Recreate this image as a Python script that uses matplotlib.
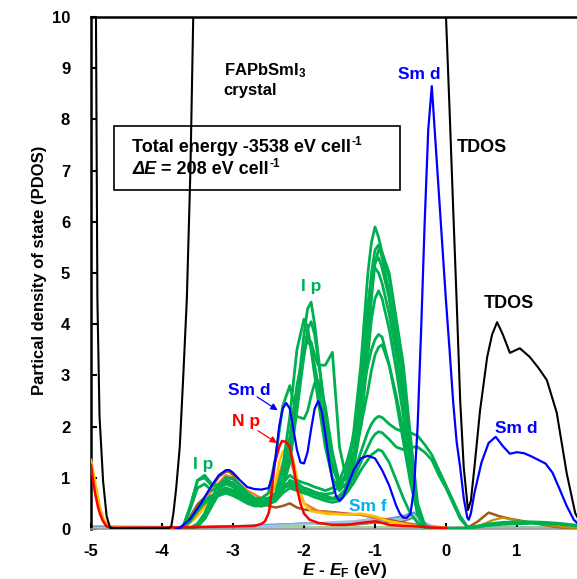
import matplotlib
matplotlib.use("Agg")
import matplotlib.pyplot as plt
from matplotlib.patches import Rectangle

plt.rcParams['font.family'] = ['Liberation Sans', 'DejaVu Sans']
plt.rcParams['font.weight'] = 'bold'
plt.rcParams['axes.unicode_minus'] = False
plt.rcParams['mathtext.fontset'] = 'custom'
plt.rcParams['mathtext.rm'] = 'Liberation Sans:bold'
plt.rcParams['mathtext.bf'] = 'Liberation Sans:bold'
plt.rcParams['mathtext.it'] = 'Liberation Sans:italic:bold'

# ---- total DOS ----
tdos_e = [-5.0, -4.96, -4.93, -4.91, -4.88, -4.83, -4.78, -4.73, -4.6, -4.4, -4.2, -4.0,
          -3.9, -3.87, -3.84, -3.8, -3.75, -3.7, -3.65, -3.6, -3.56, -3.5, -3.3, -2.5,
          -1.5, -0.5, -0.1, -0.05, 0.0, 0.05, 0.1, 0.15, 0.2, 0.25, 0.31, 0.35, 0.4,
          0.48, 0.58, 0.65, 0.72, 0.8, 0.9, 1.04, 1.18, 1.3, 1.42, 1.56, 1.7, 1.82,
          1.9, 2.0]
tdos = [20, 14, 10, 4.5, 2.2, 0.94, 0.25, 0.02, 0.01, 0.01, 0.01, 0.01,
        0.02, 0.05, 0.3, 0.8, 1.6, 3.0, 4.5, 7.0, 10, 14, 25, 35,
        35, 30, 14, 12, 10, 8.2, 6.3, 4.45, 2.5, 1.2, 0.37, 0.55, 1.2,
        2.32, 3.36, 3.8, 4.04, 3.8, 3.44, 3.53, 3.36, 3.15, 2.91, 2.27, 1.09, 0.31,
        0.1, 0.03]

# ---- Sm d ----
smd_e = [-3.8, -3.75, -3.6, -3.45, -3.3, -3.2, -3.1, -3.05, -3.0, -2.9, -2.8, -2.7,
         -2.6, -2.5, -2.45, -2.4, -2.35, -2.3, -2.25, -2.2, -2.15, -2.1, -2.05, -2.0,
         -1.95, -1.9, -1.85, -1.8, -1.75, -1.7, -1.65, -1.6, -1.55, -1.5, -1.45, -1.4,
         -1.3, -1.2, -1.1, -1.0, -0.9, -0.8, -0.7, -0.65, -0.6, -0.55, -0.5, -0.45,
         -0.4, -0.35, -0.3, -0.25, -0.2, -0.15, -0.1, -0.05, 0.0, 0.05, 0.1, 0.15,
         0.2, 0.25, 0.3, 0.32, 0.35, 0.4, 0.5, 0.6, 0.7, 0.8, 0.9, 1.0, 1.1, 1.2,
         1.3, 1.4, 1.5, 1.6, 1.7, 1.8, 1.9, 2.0]
smd = [0.0, 0.02, 0.2, 0.5, 0.85, 1.05, 1.15, 1.15, 1.1, 0.95, 0.82, 0.78,
       0.77, 0.8, 1.0, 1.4, 2.0, 2.35, 2.46, 2.35, 1.95, 1.55, 1.3, 1.28,
       1.5, 1.95, 2.35, 2.5, 2.3, 1.85, 1.35, 0.95, 0.65, 0.55, 0.62, 0.8,
       1.15, 1.38, 1.43, 1.38, 1.15, 0.85, 0.45, 0.3, 0.22, 0.22, 0.3, 0.8,
       2.0, 3.9, 6.0, 7.8, 8.65, 7.6, 6.55, 5.5, 4.45, 3.5, 2.5, 1.7,
       1.2, 0.6, 0.22, 0.18, 0.3, 0.7, 1.3, 1.68, 1.8, 1.62, 1.47, 1.5, 1.48, 1.42,
       1.35, 1.28, 1.1, 0.78, 0.45, 0.18, 0.05, 0.02]

# ---- N p ----
np_e = [-5.0, -4.97, -4.94, -4.9, -4.87, -4.83, -4.78, -4.7, -3.8, -3.0, -2.7, -2.6,
        -2.55, -2.5, -2.48, -2.45, -2.41, -2.35, -2.31, -2.25, -2.2, -2.15, -2.1,
        -2.05, -2.0, -1.92, -1.8, -1.6, -1.4, -1.2, -1.0, -0.9, -0.8, -0.6, -0.4,
        -0.2, 0.0]
np_dos = [1.25, 0.95, 0.68, 0.42, 0.28, 0.15, 0.05, 0.02, 0.03, 0.05, 0.06, 0.1,
          0.15, 0.3, 0.43, 0.8, 1.29, 1.6, 1.72, 1.7, 1.6, 1.25, 0.8,
          0.5, 0.3, 0.18, 0.12, 0.08, 0.08, 0.12, 0.15, 0.12, 0.08, 0.06, 0.05,
          0.03, 0.02]

# ---- other minor PDOS ----
yel_e = [-5.0, -4.96, -4.92, -4.88, -4.84, -4.78, -4.7, -3.7, -3.5, -3.3, -3.1, -2.9,
         -2.7, -2.6, -2.5, -2.4, -2.35, -2.3, -2.25, -2.2, -2.15, -2.1, -2.05, -2.0,
         -1.9, -1.7, -1.4, -1.2, -1.0, -0.8, -0.6, -0.4, 0.0]
yel = [1.35, 1.05, 0.75, 0.45, 0.25, 0.08, 0.02, 0.0, 0.25, 0.6, 0.9, 0.8,
       0.6, 0.45, 0.5, 0.9, 1.3, 1.5, 1.58, 1.52, 1.35, 1.0, 0.7, 0.5,
       0.35, 0.3, 0.28, 0.3, 0.25, 0.15, 0.1, 0.05, 0.02]
org_e = [-5.0, -4.96, -4.92, -4.88, -4.83, -4.75, -3.7, -3.5, -3.3, -3.1, -3.0, -2.8,
         -2.6, -2.4, -2.3, -2.25, -2.2, -2.1, -2.0, -1.8, -1.5, -1.2, -1.0, -0.8,
         -0.5, 0.0]
org = [1.3, 1.0, 0.7, 0.42, 0.2, 0.04, 0.0, 0.3, 0.75, 1.05, 1.0, 0.75,
       0.6, 0.8, 1.3, 1.45, 1.4, 0.9, 0.5, 0.35, 0.3, 0.28, 0.22, 0.15,
       0.08, 0.02]
brn_e = [-3.75, -3.7, -3.6, -3.5, -3.4, -3.3, -3.2, -3.1, -3.05, -3.0, -2.9, -2.8,
         -2.7, -2.6, -2.5, -2.4, -2.3, -2.2, -2.1, -2.0, -1.8, -1.6, -1.4, -1.2,
         -1.0, -0.8, -0.6, -0.4, -0.2, 0.0, 0.3, 0.45, 0.6, 0.75, 0.9, 1.1, 1.3,
         1.5, 1.7, 2.0]
brn = [0.0, 0.02, 0.25, 0.48, 0.62, 0.82, 1.02, 1.12, 1.12, 1.05, 0.85, 0.65,
       0.55, 0.5, 0.45, 0.42, 0.45, 0.5, 0.42, 0.38, 0.35, 0.33, 0.3, 0.28,
       0.22, 0.18, 0.12, 0.08, 0.03, 0.01, 0.02, 0.15, 0.32, 0.25, 0.2, 0.15, 0.1,
       0.05, 0.02, 0.01]
brn2_e = [0.3, 0.5, 0.65, 0.8, 0.95, 1.1, 1.3, 1.5, 1.7, 2.0]
brn2 = [0.01, 0.08, 0.17, 0.22, 0.18, 0.14, 0.1, 0.06, 0.03, 0.01]

smf_e = [-5.0, -3.8, -3.0, -2.5, -2.0, -1.6, -1.3, -1.0, -0.8, -0.6, -0.5, -0.45,
         -0.4, -0.3, -0.2, 0.0, 0.5, 2.0]
smf1 = [0.03, 0.02, 0.05, 0.08, 0.1, 0.12, 0.1, 0.15, 0.2, 0.25, 0.3, 0.32,
        0.25, 0.12, 0.05, 0.02, 0.02, 0.02]
smf2 = [0.02, 0.02, 0.04, 0.06, 0.09, 0.13, 0.15, 0.2, 0.18, 0.2, 0.26, 0.24,
        0.2, 0.1, 0.06, 0.02, 0.01, 0.01]
smf3 = [0.05, 0.04, 0.05, 0.07, 0.11, 0.1, 0.08, 0.12, 0.13, 0.15, 0.2, 0.22,
        0.18, 0.08, 0.04, 0.02, 0.02, 0.01]
base_e = [-5.0, 2.0]
base = [0.06, 0.06]

# ---- I p (many iodine atoms) ----
ip_e = [-3.8, -3.7, -3.6, -3.5, -3.4, -3.3, -3.2, -3.1, -3.0, -2.9, -2.8, -2.7, -2.6,
        -2.5, -2.4, -2.3, -2.2, -2.1, -2.0, -1.95, -1.9, -1.85, -1.8, -1.7, -1.6,
        -1.5, -1.4, -1.3, -1.2, -1.1, -1.05, -1.0, -0.95, -0.9, -0.8, -0.7, -0.6,
        -0.5, -0.4, -0.3, -0.2, -0.1, 0.0, 0.1, 0.2, 0.3, 0.4]
ip1 = [0, 0, 0.02, 0.1, 0.3, 0.6, 0.85, 1.0, 0.98, 0.85, 0.7, 0.6, 0.55, 0.55, 0.65,
       0.9, 1.5, 2.6, 3.8, 4.3, 4.43, 4.0, 3.4, 2.2, 1.3, 0.8,
       1.05, 1.9, 3.2, 5.0, 5.6, 5.9, 5.7, 5.4, 5.0, 4.1, 3.2, 1.8, 0.5, 0.08,
       0, 0, 0, 0, 0, 0, 0]
ip2 = [0, 0.05, 0.45, 0.95, 1.0, 0.85, 0.85, 0.95, 0.9, 0.75, 0.65, 0.6, 0.58, 0.6, 0.7,
       1.2, 2.2, 3.5, 4.1, 3.95, 3.5, 3.0, 2.5, 1.6, 1.0, 0.75,
       0.9, 1.5, 2.6, 4.2, 5.0, 5.45, 5.55, 5.3, 4.6, 3.7, 2.7, 1.4, 0.35, 0.05,
       0, 0, 0, 0, 0, 0, 0]
ip3 = [0, 0, 0, 0.05, 0.2, 0.45, 0.7, 0.8, 0.75, 0.65, 0.55, 0.5, 0.45, 0.5, 0.55,
       0.8, 1.3, 2.3, 3.4, 3.9, 4.05, 3.8, 3.3, 2.3, 1.4, 0.9,
       0.8, 1.3, 2.2, 3.6, 4.5, 5.2, 5.45, 5.4, 4.9, 4.0, 3.0, 1.6, 0.4, 0.05,
       0, 0, 0, 0, 0, 0, 0]
ip4 = [0, 0.05, 0.2, 0.4, 0.55, 0.65, 0.7, 0.75, 0.7, 0.6, 0.55, 0.5, 0.5, 0.5, 0.6,
       0.9, 1.5, 2.5, 3.4, 3.75, 3.65, 3.4, 3.2, 3.2, 3.45, 1.6,
       0.95, 1.3, 2.4, 4.0, 4.8, 5.2, 5.3, 5.1, 4.5, 3.6, 2.6, 1.3, 0.3, 0.03,
       0, 0, 0, 0, 0, 0, 0]
ip5 = [0, 0.05, 0.4, 0.8, 0.88, 0.75, 0.8, 0.88, 0.82, 0.7, 0.6, 0.55, 0.52, 0.55, 0.65,
       1.0, 1.8, 2.8, 3.5, 3.7, 3.55, 3.2, 2.8, 1.9, 1.2, 0.85,
       1.1, 1.8, 3.0, 4.4, 4.9, 5.1, 5.0, 4.8, 4.2, 3.4, 2.4, 1.2, 0.3, 0.03,
       0, 0, 0, 0, 0, 0, 0]
ip6 = [0, 0, 0.02, 0.08, 0.25, 0.5, 0.75, 0.9, 0.88, 0.78, 0.68, 0.6, 0.6, 0.7, 1.4,
       2.4, 2.8, 2.2, 2.15, 2.3, 2.6, 2.85, 2.9, 2.4, 1.5, 0.9,
       0.8, 1.2, 2.0, 3.4, 4.1, 4.5, 4.65, 4.5, 3.9, 3.1, 2.2, 1.1, 0.3, 0.03,
       0, 0, 0, 0, 0, 0, 0]
ip7 = [0, 0, 0, 0.05, 0.2, 0.45, 0.7, 0.8, 0.75, 0.65, 0.55, 0.5, 0.45, 0.5, 0.55,
       0.9, 1.05, 0.95, 0.9, 0.88, 0.85, 0.82, 0.8, 0.75, 0.8, 0.95,
       1.3, 1.8, 2.5, 3.2, 3.5, 3.7, 3.8, 3.75, 3.2, 2.5, 1.7, 0.9, 0.3, 0.05,
       0, 0, 0, 0, 0, 0, 0]
ip8 = [0, 0.03, 0.15, 0.35, 0.5, 0.6, 0.65, 0.7, 0.65, 0.58, 0.5, 0.45, 0.45, 0.48, 0.55,
       0.75, 0.95, 0.9, 0.8, 0.78, 0.75, 0.72, 0.7, 0.68, 0.7, 0.85,
       1.1, 1.5, 2.0, 2.7, 3.1, 3.4, 3.55, 3.6, 3.2, 2.6, 1.9, 1.0, 0.35, 0.05,
       0, 0, 0, 0, 0, 0, 0]
ip9 = [0, 0.05, 0.45, 0.95, 1.05, 0.88, 0.85, 0.95, 0.9, 0.75, 0.65, 0.6, 0.58, 0.6, 0.7,
       0.85, 0.9, 0.85, 0.8, 0.78, 0.75, 0.72, 0.7, 0.65, 0.6, 0.65,
       0.8, 1.1, 1.5, 1.9, 2.05, 2.15, 2.2, 2.18, 2.05, 1.95, 1.9, 1.88, 1.82, 1.65,
       1.45, 1.15, 0.85, 0.55, 0.25, 0.05, 0]
ip10 = [0, 0, 0.02, 0.1, 0.3, 0.6, 0.85, 1.0, 0.98, 0.85, 0.7, 0.6, 0.55, 0.55, 0.65,
        0.8, 0.85, 0.8, 0.75, 0.72, 0.7, 0.68, 0.65, 0.6, 0.58, 0.6,
        0.75, 1.0, 1.3, 1.6, 1.75, 1.85, 1.9, 1.88, 1.75, 1.6, 1.55, 1.6, 1.6, 1.5,
        1.35, 1.05, 0.8, 0.5, 0.2, 0.04, 0]
ip11 = [0, 0, 0, 0.05, 0.2, 0.45, 0.7, 0.8, 0.75, 0.65, 0.55, 0.5, 0.45, 0.5, 0.55,
        0.7, 0.8, 0.75, 0.7, 0.68, 0.65, 0.62, 0.6, 0.55, 0.52, 0.55,
        0.7, 0.9, 1.15, 1.35, 1.45, 1.5, 1.55, 1.52, 1.3, 0.95, 0.6, 0.3, 0.12, 0.04,
        0, 0, 0, 0, 0, 0, 0]
ip_tail_e = [0.2, 0.3, 0.45, 0.6, 0.8, 1.0, 1.2, 1.4, 1.6, 1.8, 2.0]
ip_tail1 = [0.0, 0.02, 0.06, 0.1, 0.13, 0.14, 0.14, 0.13, 0.11, 0.08, 0.05]
ip_tail2 = [0.0, 0.01, 0.04, 0.07, 0.09, 0.1, 0.11, 0.1, 0.09, 0.07, 0.04]

GREEN = '#00b050'
BLUE = '#0000ff'
RED = '#ff0000'

fig = plt.figure(figsize=(5.77, 5.79), dpi=100)
ax = fig.add_axes([91 / 577, 50 / 579, 497 / 577, 512 / 579])

ax.fill_between(base_e, 0, base, color='#a9d08e', lw=0, zorder=1)
ax.plot(smf_e, smf3, color='#7f7f7f', lw=1.5, zorder=2)
ax.plot(smf_e, smf1, color='#5b9bd5', lw=1.8, zorder=2)
ax.plot(smf_e, smf2, color='#9dc3e6', lw=1.8, zorder=2)
ax.plot(brn_e, brn, color='#9c5b14', lw=1.8, zorder=3)
ax.plot(brn2_e, brn2, color='#bf8f00', lw=1.5, zorder=3)
ax.plot(org_e, org, color='#ed7d31', lw=1.8, zorder=3)
ax.plot(yel_e, yel, color='#ffc000', lw=1.8, zorder=3)

for ys in [ip11, ip10, ip9, ip8, ip7, ip6, ip5, ip4, ip3, ip2, ip1]:
    ax.plot(ip_e, ys, color=GREEN, lw=2.0, zorder=4)
ax.plot(ip_tail_e, ip_tail1, color=GREEN, lw=2.0, zorder=4)
ax.plot(ip_tail_e, ip_tail2, color=GREEN, lw=2.0, zorder=4)

ax.plot(np_e, np_dos, color=RED, lw=1.8, zorder=5)
ax.plot(smd_e, smd, color=BLUE, lw=1.6, zorder=6)
ax.plot(tdos_e, tdos, color='black', lw=1.5, zorder=7)

ax.set_xlim(-5, 2)
ax.set_ylim(0, 10)
ax.set_xticks([-5, -4, -3, -2, -1, 0, 1])
ax.set_yticks(range(0, 11))
ax.tick_params(axis='x', direction='in', length=4, width=1.5, labelsize=12, pad=11)
ax.tick_params(axis='y', direction='in', length=4, width=1.5, labelsize=12, pad=15)
for lab in ax.get_xticklabels() + ax.get_yticklabels():
    lab.set_fontweight('bold')
ax.spines['left'].set_linewidth(1.8)
ax.spines['top'].set_linewidth(1.8)
ax.spines['right'].set_visible(False)
ax.spines['bottom'].set_color('#9a9a9a')
ax.spines['bottom'].set_linewidth(1.2)

# text box with energies; superscripts written with a plain hyphen
ax.add_patch(Rectangle((-4.676, 6.62), 4.028, 1.25, fill=False, ec='black', lw=1.2, zorder=8))
t1 = ax.text(-4.42, 7.46, 'Total energy -3538 eV cell', fontsize=13, fontweight='bold',
             va='center', ha='left', zorder=9)
ax.annotate('-1', xy=(1, 1), xycoords=t1, xytext=(0.5, 1.5), textcoords='offset points',
            fontsize=8.5, fontweight='bold', ha='left', va='top', zorder=9)
t2 = ax.text(-4.42, 7.03, 'ΔE', fontsize=13, fontweight='bold', style='italic',
             va='center', ha='left', zorder=9)
t3 = ax.annotate(' = 208 eV cell', xy=(1, 0), xycoords=t2, fontsize=13, fontweight='bold',
                 ha='left', va='bottom', zorder=9)
ax.annotate('-1', xy=(1, 1), xycoords=t3, xytext=(0.5, 1.5), textcoords='offset points',
            fontsize=8.5, fontweight='bold', ha='left', va='top', zorder=9)

ax.text(-3.13, 8.96, 'FAPbSmI$_3$', fontsize=12, fontweight='bold', va='center', ha='left')
ax.text(-3.13, 8.57, 'crystal', fontsize=12, fontweight='bold', va='center', ha='left')

ax.text(-0.37, 8.87, 'Sm d', color=BLUE, fontsize=12.5, fontweight='bold', ha='center', va='center')
ax.text(0.155, 7.46, 'TDOS', color='black', fontsize=13, fontweight='bold', ha='left', va='center')
ax.text(0.88, 4.41, 'TDOS', color='black', fontsize=13, fontweight='bold', ha='center', va='center')
ax.text(0.99, 1.97, 'Sm d', color=BLUE, fontsize=12.5, fontweight='bold', ha='center', va='center')
ax.text(-1.9, 4.73, 'I p', color=GREEN, fontsize=12.5, fontweight='bold', ha='center', va='center')
ax.text(-3.42, 1.25, 'I p', color=GREEN, fontsize=12.5, fontweight='bold', ha='center', va='center')
ax.text(-1.10, 0.44, 'Sm f', color='#00b0f0', fontsize=12.5, fontweight='bold', ha='center', va='center')
ax.text(-2.77, 2.71, 'Sm d', color=BLUE, fontsize=12.5, fontweight='bold', ha='center', va='center')
ax.text(-2.82, 2.1, 'N p', color=RED, fontsize=12.5, fontweight='bold', ha='center', va='center')

ax.annotate('', xy=(-2.37, 2.32), xytext=(-2.66, 2.58),
            arrowprops=dict(arrowstyle='-|>', color=BLUE, lw=0.9, mutation_scale=10,
                            shrinkA=0, shrinkB=0), zorder=9)
ax.annotate('', xy=(-2.38, 1.68), xytext=(-2.65, 1.92),
            arrowprops=dict(arrowstyle='-|>', color=RED, lw=0.9, mutation_scale=10,
                            shrinkA=0, shrinkB=0), zorder=9)

fig.text(40 / 577, 1 - 270 / 579, 'Partical density of state (PDOS)', rotation=90,
         fontsize=12, fontweight='bold', ha='center', va='center')
fig.text(345 / 577, 1 - 575 / 579, r'$E$ - $E_\mathrm{F}$ (eV)', fontsize=12.5,
         fontweight='bold', ha='center', va='baseline')

fig.savefig('out.png', dpi=100)
